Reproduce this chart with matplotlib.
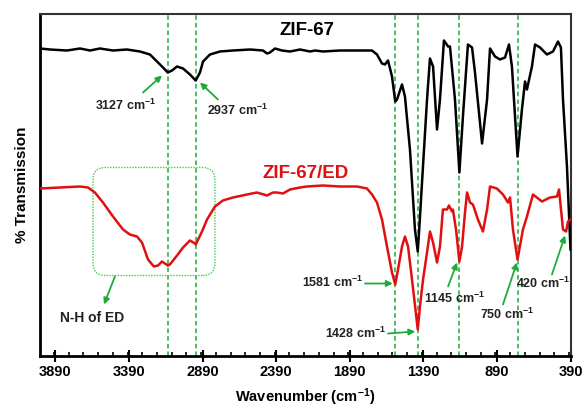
import matplotlib
matplotlib.use("Agg")
import matplotlib.pyplot as plt
from matplotlib.patches import FancyBboxPatch
from matplotlib.ticker import MultipleLocator, FixedLocator

plt.rcParams['font.family'] = ['Liberation Sans', 'DejaVu Sans']
plt.rcParams['font.weight'] = 'bold'
plt.rcParams['mathtext.fontset'] = 'custom'
plt.rcParams['mathtext.rm'] = 'Liberation Sans:bold'
plt.rcParams['mathtext.bf'] = 'Liberation Sans:bold'
plt.rcParams['mathtext.default'] = 'bf'

# ---- data (wavenumber cm-1, transmission a.u.) ----
zif_wn = [3995, 3927, 3812, 3723, 3655, 3588, 3499, 3404, 3316, 3248, 3200, 3159,
          3127, 3098, 3064, 3023, 2976, 2937, 2908, 2887, 2840, 2772, 2684, 2568,
          2480, 2452, 2432, 2398, 2351, 2296, 2228, 2160, 2126, 2072, 1957, 1841,
          1739, 1705, 1671, 1651, 1630, 1603, 1581, 1569, 1535, 1515, 1481, 1447,
          1428, 1418, 1399, 1365, 1345, 1324, 1297, 1277, 1250, 1222, 1209, 1175,
          1145, 1121, 1087, 1059, 1039, 991, 957, 937, 903, 869, 835, 808, 788,
          767, 750, 720, 699, 686, 652, 631, 597, 550, 509, 475, 455, 441, 414, 390]
zif_t = [307, 306, 305, 307, 305, 307, 305, 306, 304, 301, 294, 288,
         283, 285, 289, 287, 281, 275, 283, 294, 301, 304, 305, 306,
         305, 302, 303, 307, 305, 304, 306, 304, 305, 304, 305, 305,
         305, 301, 292, 291, 295, 279, 254, 256, 271, 259, 206, 126,
         104, 126, 173, 256, 297, 289, 226, 256, 315, 309, 309, 256,
         183, 239, 311, 308, 283, 212, 256, 307, 299, 296, 298, 311, 289,
         239, 199, 246, 274, 266, 289, 311, 308, 301, 304, 314, 308, 256, 189, 106]

ed_wn = [3995, 3859, 3723, 3669, 3622, 3567, 3499, 3431, 3384, 3336, 3302, 3261,
         3221, 3193, 3166, 3127, 3112, 3064, 3023, 2976, 2942, 2937, 2894, 2860,
         2806, 2752, 2684, 2588, 2521, 2452, 2412, 2385, 2344, 2296, 2228, 2181,
         2072, 1957, 1841, 1773, 1739, 1705, 1671, 1637, 1603, 1581, 1562, 1535,
         1515, 1494, 1467, 1428, 1413, 1392, 1365, 1345, 1324, 1297, 1277, 1257,
         1229, 1216, 1195, 1189, 1168, 1145, 1127, 1107, 1093, 1073, 1053, 1019,
         985, 957, 937, 890, 849, 815, 801, 781, 750, 713, 686, 645, 584, 529,
         482, 468, 441, 420, 407, 390]
ed_t = [167, 168, 169, 168, 163, 153, 139, 126, 121, 119, 113, 96,
        89, 90, 94, 90, 91, 100, 108, 115, 112, 111, 124, 136,
        149, 155, 158, 161, 163, 160, 163, 163, 162, 166, 168, 169,
        170, 169, 169, 167, 161, 153, 136, 109, 83, 71, 86, 109,
        119, 109, 76, 26, 49, 76, 103, 124, 113, 93, 109, 146,
        146, 150, 144, 146, 126, 94, 109, 143, 163, 153, 151, 136,
        124, 146, 169, 167, 161, 153, 158, 126, 96, 126, 139, 161, 154, 158,
        159, 166, 126, 124, 134, 136]

marker_wn = [3127, 2937, 1581, 1428, 1145, 750]
xticks = [3890, 3390, 2890, 2390, 1890, 1390, 890, 390]

GREEN = '#1faa3a'

fig = plt.figure(figsize=(5.85, 4.09), dpi=100)
ax = fig.add_axes([40/585, 1-355.5/409, 530.5/585, 341.5/409])

for w in marker_wn:
    ax.axvline(w, color=GREEN, lw=1.1, ls=(0, (3, 2)), zorder=1)

ax.plot(zif_wn, zif_t, color='black', lw=1.8, zorder=3)
ax.plot(ed_wn, ed_t, color='#e01010', lw=1.8, zorder=3)

ax.set_xlim(3995, 390)
ax.set_ylim(0, 341.5)
ax.xaxis.set_major_locator(FixedLocator(xticks))
ax.xaxis.set_minor_locator(MultipleLocator(100))
ax.set_xticklabels([str(t) for t in xticks], fontsize=10.5, fontweight='bold')
ax.tick_params(axis='x', which='major', direction='inout', length=8, width=1.5, pad=3)
ax.tick_params(axis='x', which='minor', direction='in', length=3, width=1.2)
ax.set_yticks([])

for s in ['left', 'bottom']:
    ax.spines[s].set_linewidth(2.0)
    ax.spines[s].set_color('black')
for s in ['top', 'right']:
    ax.spines[s].set_linewidth(1.5)
    ax.spines[s].set_color('#333333')

ax.set_xlabel(r'Wavenumber (cm$^{-1}$)', fontsize=10.5, fontweight='bold', labelpad=5)
ax.set_ylabel('% Transmission', fontsize=11, fontweight='bold', labelpad=8)

ax.text(2181, 325, 'ZIF-67', fontsize=13.5, fontweight='bold', color='black',
        ha='center', va='center')
ax.text(2188, 182, 'ZIF-67/ED', fontsize=13.5, fontweight='bold', color='#e01010',
        ha='center', va='center')

# rounded dotted box for N-H region
box = FancyBboxPatch((2806, 80), 3635 - 2806, 188 - 80,
                     boxstyle='round,pad=0,rounding_size=85',
                     mutation_aspect=0.15,
                     fill=False, ec='#3fcf3f', lw=1.0, ls=(0, (1, 1)), zorder=2)
ax.add_patch(box)

labels = [
    (r'3127 cm$^{-1}$', 3414, 250, (3166, 280), (3295, 263)),
    (r'2937 cm$^{-1}$', 2650, 245, (2908, 273), (2786, 256)),
    ('N-H of ED', 3638, 37, (3560, 51), (3486, 79)),
    (r'1581 cm$^{-1}$', 2007, 73, (1598, 72), (1787, 72)),
    (r'1428 cm$^{-1}$', 1848, 22, (1445, 24), (1630, 22)),
    (r'1145 cm$^{-1}$', 1175, 57, (1161, 93), (1222, 69)),
    (r'750 cm$^{-1}$', 822, 41, (754, 93), (849, 51)),
    (r'420 cm$^{-1}$', 577, 72, (427, 120), (516, 81)),
]
for txt, tx, ty, head, tail in labels:
    fs = 10 if txt.startswith('N-H') else 9
    ax.text(tx, ty, txt, fontsize=fs, fontweight='bold', ha='center', va='center',
            color='#222222', zorder=5)
    ax.annotate('', xy=head, xytext=tail,
                arrowprops=dict(arrowstyle='-|>', color=GREEN, lw=1.3,
                                mutation_scale=9, shrinkA=0, shrinkB=0), zorder=5)

fig.savefig('out.png', dpi=100)
